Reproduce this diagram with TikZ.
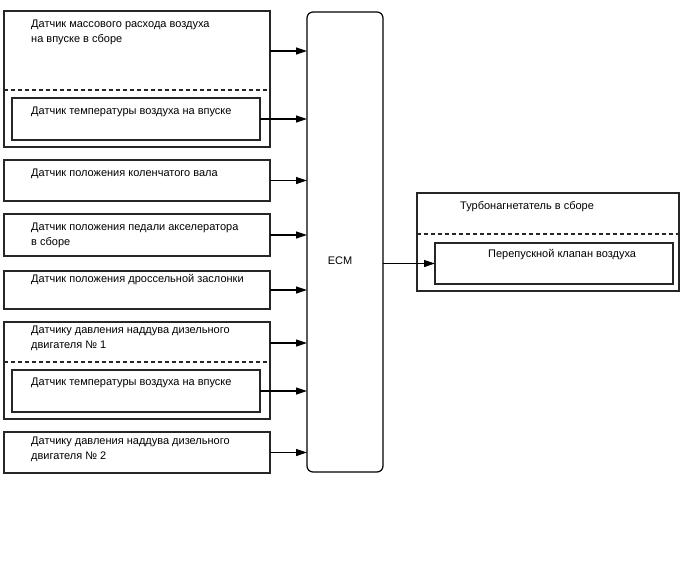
\documentclass[tikz,border=0pt]{standalone}
\usepackage{fontspec}
\setmainfont{Liberation Sans}
\usetikzlibrary{arrows.meta}
\begin{document}
\begin{tikzpicture}[x=1pt,y=-1pt,
  box/.style={draw=black!85, line width=1.2pt, outer sep=0pt, inner sep=0pt, anchor=north west},
  lbl/.style={anchor=base west, inner sep=0pt, align=left, font=\fontsize{11}{15}\selectfont},
  dsh/.style={draw=black!85, line width=1.1pt, dash pattern=on 4pt off 3pt},
  arr/.style={draw=black, line width=1.2pt, -{Triangle[length=11pt,width=7pt]}}]
\useasboundingbox (0,0) rectangle (688,560);
% left boxes
\node[box, minimum width=266pt, minimum height=136pt] (b1) at (4,11) {};
\node[box, minimum width=248pt, minimum height=42pt] (b1i) at (12,98) {};
\draw[dsh] (4,90) -- (270,90);
\node[lbl] (t1) at (31,42) {Датчик массового расхода воздуха\\на впуске в сборе};
\node[lbl] (t1i) at (31,114) {Датчик температуры воздуха на впуске};
\node[box, minimum width=266pt, minimum height=41pt] (b2) at (4,160) {};
\node[lbl] (t2) at (31,176) {Датчик положения коленчатого вала};
\node[box, minimum width=266pt, minimum height=42pt] (b3) at (4,214) {};
\node[lbl] (t3) at (31,245) {Датчик положения педали акселератора\\в сборе};
\node[box, minimum width=266pt, minimum height=38pt] (b4) at (4,271) {};
\node[lbl] (t4) at (31,282) {Датчик положения дроссельной заслонки};
\node[box, minimum width=266pt, minimum height=97pt] (b5) at (4,322) {};
\node[box, minimum width=248pt, minimum height=42pt] (b5i) at (12,370) {};
\draw[dsh] (4,362) -- (270,362);
\node[lbl] (t5) at (31,348) {Датчику давления наддува дизельного\\двигателя № 1};
\node[lbl] (t5i) at (31,385) {Датчик температуры воздуха на впуске};
\node[box, minimum width=266pt, minimum height=41pt] (b6) at (4,432) {};
\node[lbl] (t6) at (31,459) {Датчику давления наддува дизельного\\двигателя № 2};
% ECM
\node[box, draw=black, rounded corners=6pt, minimum width=76pt, minimum height=460pt] (ecm) at (307,12) {};
\node[inner sep=0pt, font=\fontsize{11}{12}\selectfont] (ecml) at (340,261) {ECM};
% right box
\node[box, minimum width=262pt, minimum height=98pt] (r) at (417,193) {};
\node[box, minimum width=238pt, minimum height=41pt] (ri) at (435,243) {};
\draw[dsh] (417,234) -- (679,234);
\node[lbl] (tr) at (460,209) {Турбонагнетатель в сборе};
\node[lbl] (tri) at (488,257) {Перепускной клапан воздуха};
% connectors
\coordinate (c1) at (270,51);
\draw[arr] (c1) -- (c1 -| ecm.west);
\draw[arr] (b1i.east) -- (b1i.east -| ecm.west);
\draw[arr] (b2.east) -- (b2.east -| ecm.west);
\draw[arr] (b3.east) -- (b3.east -| ecm.west);
\draw[arr] (b4.east) -- (b4.east -| ecm.west);
\coordinate (c5) at (270,343);
\draw[arr] (c5) -- (c5 -| ecm.west);
\draw[arr] (b5i.east) -- (b5i.east -| ecm.west);
\draw[arr] (b6.east) -- (b6.east -| ecm.west);
\draw[arr] (ri.west -| ecm.east) -- (ri.west);
\end{tikzpicture}
\end{document}
